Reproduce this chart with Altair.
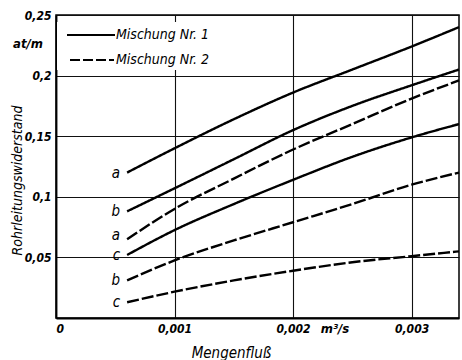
import altair as alt
import pandas as pd

# Mengenfluß (m³/s) sample points
flow = [0.0006, 0.001, 0.0015, 0.002, 0.0025, 0.003, 0.0034]

# Mischung Nr. 1 (solid)
nr1_a = [0.120, 0.140, 0.164, 0.186, 0.205, 0.224, 0.240]
nr1_b = [0.088, 0.107, 0.131, 0.155, 0.175, 0.192, 0.205]
nr1_c = [0.052, 0.0725, 0.094, 0.114, 0.133, 0.149, 0.160]
# Mischung Nr. 2 (dashed)
nr2_a = [0.065, 0.090, 0.115, 0.139, 0.160, 0.181, 0.196]
nr2_b = [0.031, 0.0475, 0.064, 0.079, 0.094, 0.110, 0.120]
nr2_c = [0.013, 0.0217, 0.031, 0.039, 0.046, 0.051, 0.055]

series = [
    ("Mischung Nr. 1", "a", nr1_a),
    ("Mischung Nr. 1", "b", nr1_b),
    ("Mischung Nr. 1", "c", nr1_c),
    ("Mischung Nr. 2", "a", nr2_a),
    ("Mischung Nr. 2", "b", nr2_b),
    ("Mischung Nr. 2", "c", nr2_c),
]
legend_names = ["Mischung Nr. 1", "Mischung Nr. 2"]
x_ticks = [0, 0.001, 0.002, 0.003]
y_ticks = [0.05, 0.1, 0.15, 0.2, 0.25]

rows = []
for mix, letter, vals in series:
    for i, (q, r) in enumerate(zip(flow, vals)):
        rows.append({"q": q, "r": r, "mix": mix, "letter": letter,
                     "curve": mix + " " + letter, "first": i == 0})
df = pd.DataFrame(rows)

FONT = "DejaVu Sans Condensed"
TXT = dict(font=FONT, fontStyle="italic", color="black")

xs = alt.Scale(domain=[0, 0.0034], nice=False, zero=True)
ys = alt.Scale(domain=[0, 0.25], nice=False)

common_axis = dict(
    grid=True, ticks=False, domainColor="black", domainWidth=1.8,
    gridColor="#111", gridWidth=1.1, gridOpacity=1,
    labelFont=FONT, labelFontStyle="italic", labelFontSize=12, labelColor="black",
    labelFontWeight="bold",
    titleFont=FONT, titleFontStyle="italic", titleFontWeight="normal",
    titleColor="black", labelPadding=5,
)

x_axis = alt.Axis(values=x_ticks,
                  labelExpr="datum.value == 0 ? '0' : replace(format(datum.value, '.3f'), '.', ',')",
                  title="Mengenfluß", titleX=175, titleY=34, titleFontSize=15,
                  titleAlign="center", titleBaseline="middle", **common_axis)
y_axis = alt.Axis(values=y_ticks,
                  labelExpr="replace(format(datum.value, '.2~f'), '.', ',')",
                  title="Rohrleitungswiderstand", titleX=-39, titleY=165, titleFontSize=14,
                  titleAngle=270, titleAlign="center", titleBaseline="middle", **common_axis)

lines = alt.Chart(df).mark_line(color="black", strokeWidth=2.4, interpolate="monotone").encode(
    x=alt.X("q:Q", scale=xs, axis=x_axis),
    y=alt.Y("r:Q", scale=ys, axis=y_axis),
    strokeDash=alt.StrokeDash("mix:N", scale=alt.Scale(domain=legend_names, range=[[1, 0], [12, 3]]), legend=None),
    detail="curve:N",
)

labels = alt.Chart(df).transform_filter(
    "datum.first && datum.curve != 'Mischung Nr. 2 a'"
).mark_text(align="right", baseline="middle", dx=-7, fontSize=15, **TXT).encode(
    x=alt.X("q:Q", scale=xs), y=alt.Y("r:Q", scale=ys), text="letter:N")
label_a2 = alt.Chart(df).transform_filter(
    "datum.first && datum.curve == 'Mischung Nr. 2 a'"
).mark_text(align="right", baseline="middle", dx=-7, dy=-4, fontSize=15, **TXT).encode(
    x=alt.X("q:Q", scale=xs), y=alt.Y("r:Q", scale=ys), text="letter:N")

# manual legend box
leg_bg = alt.Chart(pd.DataFrame({"n": [0]})).mark_rect(fill="white").encode(
    x=alt.value(1), x2=alt.value(150), y=alt.value(7), y2=alt.value(55))
leg1_line = alt.Chart(pd.DataFrame({"n": [legend_names[0]]})).mark_rule(color="black", strokeWidth=2).encode(
    x=alt.value(11), x2=alt.value(59), y=alt.value(20))
leg2_line = alt.Chart(pd.DataFrame({"n": [legend_names[1]]})).mark_rule(color="black", strokeWidth=2, strokeDash=[10, 3]).encode(
    x=alt.value(14), x2=alt.value(58), y=alt.value(45))
leg1_txt = alt.Chart(pd.DataFrame({"n": [legend_names[0]]})).mark_text(
    align="left", baseline="middle", fontSize=14, **TXT).encode(
    x=alt.value(60), y=alt.value(20), text="n:N")
leg2_txt = alt.Chart(pd.DataFrame({"n": [legend_names[1]]})).mark_text(
    align="left", baseline="middle", fontSize=14, **TXT).encode(
    x=alt.value(60), y=alt.value(45), text="n:N")

unit_y = alt.Chart(pd.DataFrame({"t": ["at/m"]})).mark_text(
    align="center", baseline="middle", fontSize=13, fontWeight="bold", **TXT).encode(
    x=alt.value(-28), y=alt.value(29), text="t:N")
unit_x = alt.Chart(pd.DataFrame({"t": ["m³/s"]})).mark_text(
    align="center", baseline="middle", fontSize=13, fontWeight="bold", **TXT).encode(
    x=alt.value(279), y=alt.value(314), text="t:N")

chart = alt.layer(
    leg_bg, lines, labels, label_a2, leg1_line, leg2_line, leg1_txt, leg2_txt, unit_y, unit_x
).properties(
    width=403, height=303,
    background="white",
    autosize=alt.AutoSizeParams(type="none"),
    padding={"left": 56, "top": 15, "right": 3, "bottom": 42},
).configure_view(
    stroke="black", strokeWidth=1.5
)

chart.save("out.html", embed_options={"renderer": "svg", "actions": False})
